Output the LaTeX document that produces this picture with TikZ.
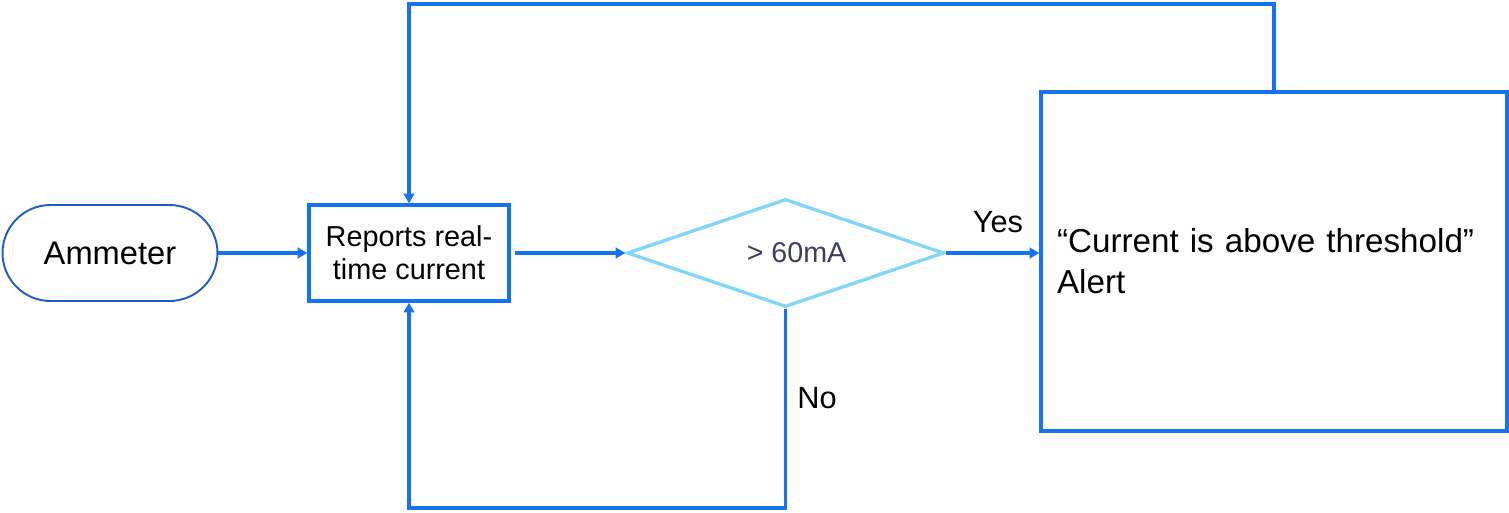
\documentclass[tikz,border=0pt]{standalone}
\usepackage{fontspec}
\setmainfont{Liberation Sans}
\usepackage{xcolor}
\usepackage{tikz}
\usetikzlibrary{arrows.meta, positioning, shapes.geometric, calc}

\definecolor{flowblue}{HTML}{1672F3}
\definecolor{darkblue}{HTML}{1F5CC4}
\definecolor{lightblue}{HTML}{7FD6F7}
\definecolor{slate}{HTML}{3B3F5C}

\begin{document}
\begin{tikzpicture}[
    x=0.02cm, y=-0.02cm,
    terminal/.style={rectangle, draw=darkblue, line width=1.1pt, rounded corners=0.96cm, minimum width=4.3cm, minimum height=1.92cm, font=\fontsize{18.6}{22}\selectfont},
    process/.style={rectangle, draw=flowblue, line width=1.9pt, minimum width=4cm, minimum height=1.92cm, align=center, font=\fontsize{16.4}{18.7}\selectfont},
    decision/.style={diamond, aspect=3, draw=lightblue, line width=1.9pt, inner sep=0pt, minimum width=6.34cm, minimum height=2.16cm, text=slate, font=\fontsize{16.3}{19}\selectfont},
    alertbox/.style={rectangle, draw=flowblue, line width=1.9pt, inner xsep=0.32cm, text width=8.68cm, minimum height=6.78cm, align=left, font=\fontsize{18.9}{23.2}\selectfont},
    lbl/.style={font=\fontsize{17.5}{21}\selectfont},
    arr/.style={-{Triangle[length=5.5pt, width=6pt]}, draw=flowblue, line width=1.9pt}
]
\useasboundingbox (0,0) rectangle (1509,512);

\node[terminal] (ammeter) at (110,253) {Ammeter};
\node[process] (reports) at (409,253) {Reports real-\\time current};
\node[decision] (check) at (785.5,253) {\hspace*{0.44cm}> 60mA};
\node[alertbox] (alert) at (1274,261.5) {“Current is above threshold”\\Alert};
\node[lbl] (yes) at (998,222) {Yes};
\node[lbl] (no) at (817,398) {No};
\coordinate (low) at (0,508);
\coordinate (high) at (0,4);

\draw[arr] (ammeter) -- (reports);
\draw[arr, shorten <=2.5pt] (reports) -- (check);
\draw[arr] (check.east) -- (check.east -| alert.west);
\draw[arr] (check.south) -- (check.south |- low) -| (reports.south);
\draw[arr] (alert.north) -- (alert.north |- high) -| (reports.north);
\end{tikzpicture}
\end{document}
